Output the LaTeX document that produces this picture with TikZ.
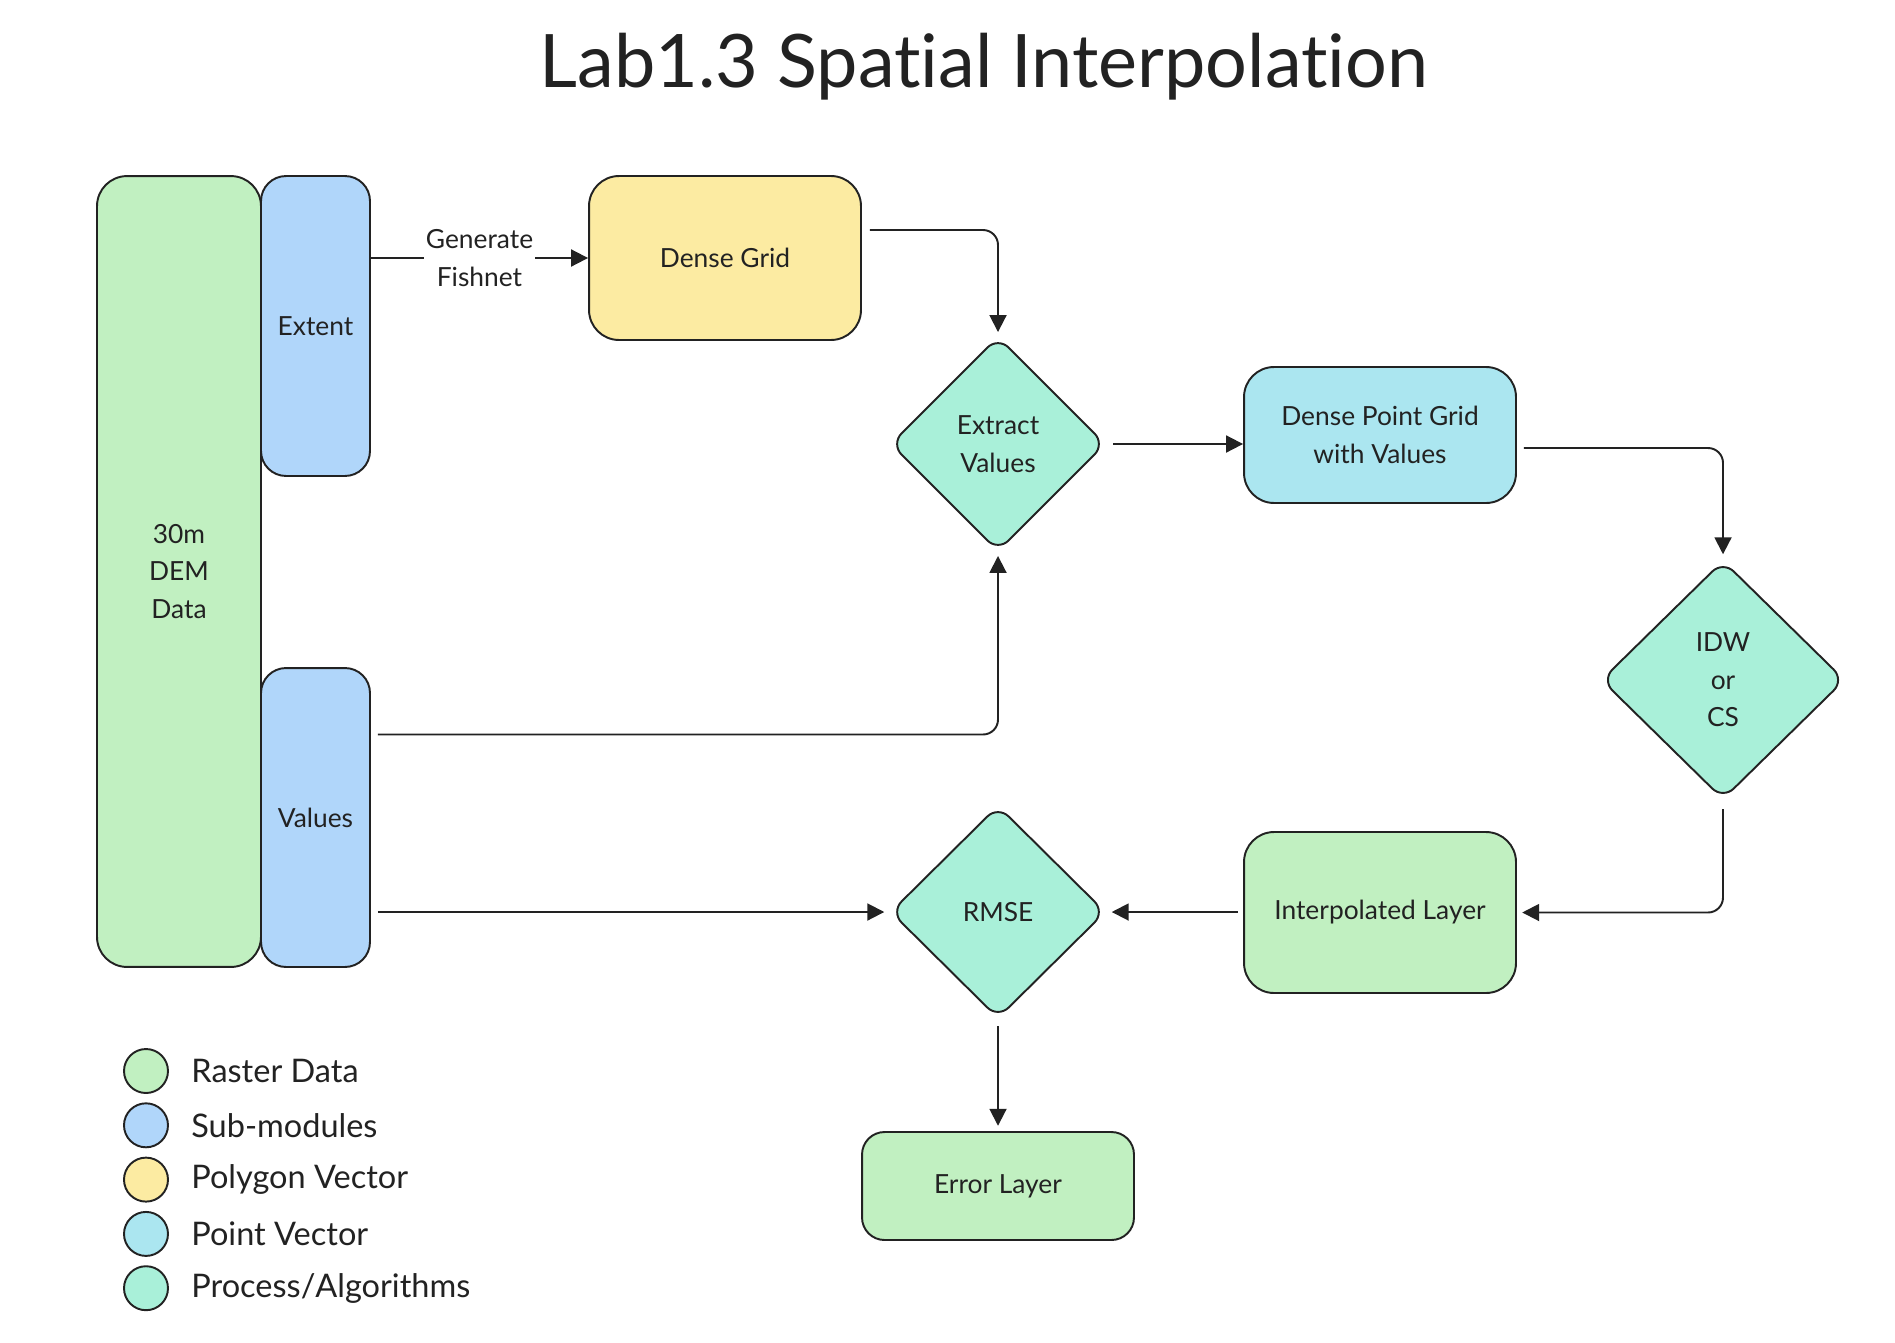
\documentclass[tikz,border=0pt]{standalone}
\usepackage{fontspec}
\setmainfont{Lato}[Ligatures=NoCommon]
\usetikzlibrary{positioning, shapes.geometric, arrows.meta, calc}
\definecolor{rastergreen}{HTML}{C1F0C1}
\definecolor{subblue}{HTML}{B0D6FA}
\definecolor{polyyellow}{HTML}{FCEBA2}
\definecolor{pointcyan}{HTML}{ABE6F0}
\definecolor{procmint}{HTML}{A9F0D9}
\definecolor{inkgray}{HTML}{222222}

\begin{document}
\begin{tikzpicture}[x=0.02cm, y=-0.02cm,
          b/.style={draw=inkgray, line width=1.1pt, rounded corners=0.6cm, text=inkgray, font=\fontsize{15}{21.3}\selectfont, align=center, inner sep=0pt},
          d/.style={b, diamond, fill=procmint, rounded corners=0.3cm},
          a/.style={-{Triangle[length=0.34cm,width=0.34cm]}, line width=1.1pt, draw=inkgray, rounded corners=0.3cm},
          lg/.style={circle, draw=inkgray, line width=1.1pt, minimum size=0.88cm, inner sep=0pt},
          lt/.style={text=inkgray, font=\fontsize{18.5}{22}\selectfont, anchor=west, inner sep=0pt}]
        \useasboundingbox (0,0) rectangle (1895,1342);
        \node[text=inkgray, font=\fontsize{42}{50}\selectfont, anchor=base] (title) at (984,87) {Lab1.3 Spatial Interpolation};
        % data blocks
        \node[b, fill=rastergreen, minimum width=3.28cm, minimum height=15.82cm] (dem) at (179,571.5) {30m\\DEM\\Data};
        \node[b, fill=subblue, rounded corners=0.5cm, minimum width=2.18cm, minimum height=6.0cm] (ext) at (315.5,326) {Extent};
        \node[b, fill=subblue, rounded corners=0.5cm, minimum width=2.18cm, minimum height=5.98cm] (val) at (315.5,817.5) {Values};
        \node[b, fill=polyyellow, minimum width=5.44cm, minimum height=3.28cm] (grid) at (725,258) {Dense Grid};
        \node[d, minimum width=4.3cm, minimum height=4.3cm] (extr) at (998,444) {Extract\\Values};
        \node[b, fill=pointcyan, minimum width=5.44cm, minimum height=2.72cm] (pts) at (1380,435) {Dense Point Grid\\with Values};
        \node[d, minimum width=4.87cm, minimum height=4.78cm] (idw) at (1723,680) {IDW\\or\\CS};
        \node[b, fill=rastergreen, minimum width=5.44cm, minimum height=3.22cm] (interp) at (1380,912.5) {Interpolated Layer};
        \node[d, minimum width=4.3cm, minimum height=4.26cm] (rmse) at (998,912) {RMSE};
        \node[b, fill=rastergreen, rounded corners=0.45cm, minimum width=5.44cm, minimum height=2.16cm] (err) at (998,1186) {Error Layer};
        % connectors
        \draw[a] (grid.west -| ext.east) -- node[fill=white, text=inkgray, font=\fontsize{15}{21.3}\selectfont, align=center, inner sep=1pt] {Generate\\Fishnet} (grid.west);
        \draw[a, shorten >=2pt] ($(grid.east)+(8,-28)$) -| (extr.north);
        \draw[a, shorten <=4pt] (extr.east) -- (extr.east -| pts.west);
        \draw[a, shorten >=3pt] ($(pts.east)+(7,13)$) -| (idw.north);
        \draw[a, shorten >=2pt] ($(val.east)+(7,-83)$) -| (extr.south);
        \draw[a, shorten >=3pt] ($(val.east |- rmse.west)+(7,0)$) -- (rmse.west);
        \draw[a, shorten <=5pt, shorten >=3pt] (idw.south) |- (interp.east);
        \draw[a, shorten <=3pt, shorten >=3pt] (rmse.east -| interp.west) -- (rmse.east);
        \draw[a, shorten <=4pt, shorten >=3pt] (rmse.south) -- (err.north);
        % legend
        \foreach \c/\t [count=\i] in {rastergreen/Raster Data, subblue/Sub-modules, polyyellow/Polygon Vector, pointcyan/Point Vector, procmint/Process\slash Algorithms} {
          \node[lg, fill=\c] (lg\i) at (146,1071+54.3*\i-54.3) {};
          \node[lt] (lt\i) at (191,1071+54.3*\i-54.3) {\t};
        }
      \end{tikzpicture}
\end{document}
